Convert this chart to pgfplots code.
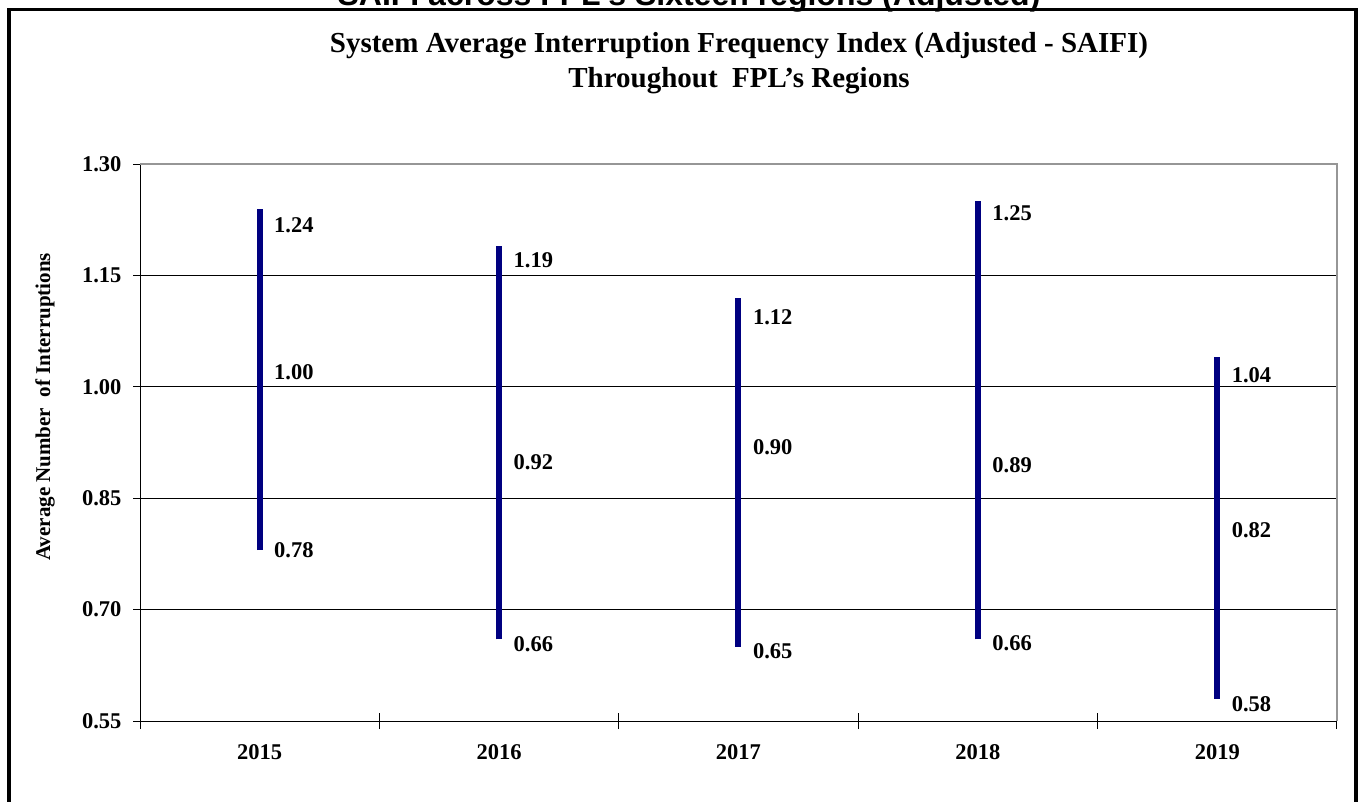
\documentclass[border=0pt]{standalone}
\usepackage{fontspec}
\setmainfont{Liberation Serif}
\newfontfamily\arialbold{Liberation Sans}[BoldFont={* Bold}]
\usepackage{pgfplots}
\pgfplotsset{compat=1.18}
\definecolor{navyline}{RGB}{0,0,128}
\definecolor{frameGray}{RGB}{150,150,150}

\pgfplotstableread{
x y
1 0.78
1 1.24
1 nan
2 0.66
2 1.19
2 nan
3 0.65
3 1.12
3 nan
4 0.66
4 1.25
4 nan
5 0.58
5 1.04
}\rangedata

% value, and height at which its label sits
\pgfplotstableread{
x val ly
1 1.24 1.218
1 1.00 1.020
1 0.78 0.780
2 1.19 1.171
2 0.92 0.899
2 0.66 0.654
3 1.12 1.094
3 0.90 0.919
3 0.65 0.644
4 1.25 1.234
4 0.89 0.895
4 0.66 0.655
5 1.04 1.015
5 0.82 0.807
5 0.58 0.573
}\labeldata

\begin{document}
\begin{tikzpicture}
\useasboundingbox (0,0) rectangle (1359pt,801pt);
\fill[white] (0,0) rectangle (1359pt,801pt);
% cut-off heading above the frame
\node[anchor=base, inner sep=0pt, font=\arialbold\bfseries\fontsize{32}{38}\selectfont]
  at (689pt,795pt) {SAIFI across FPL's Sixteen regions (Adjusted)};
\draw[line width=3.5pt] (9pt,-10pt) -- (9pt,791.5pt) -- (1356pt,791.5pt) -- (1356pt,-10pt);
\node[align=center, font=\bfseries\fontsize{29}{35}\selectfont] at (739pt,738pt)
  {System Average Interruption Frequency Index (Adjusted - SAIFI)\\Throughout\ \ FPL's Regions};

\begin{axis}[
  at={(140pt,80pt)}, anchor=south west,
  width=1197pt, height=557pt, scale only axis,
  clip=false,
  xmin=0.5, xmax=5.5, ymin=0.55, ymax=1.30,
  axis x line*=bottom, axis y line*=left,
  axis line style={black, line width=1pt, -},
  xtick={1,2,3,4,5},
  xticklabels={2015,2016,2017,2018,2019},
  minor xtick={0.5,1.5,2.5,3.5,4.5,5.5},
  major x tick style={draw=none},
  minor tick length=16pt,
  xtick align=center,
  ytick={0.55,0.70,0.85,1.00,1.15,1.30},
  ytick align=outside,
  major tick length=7pt,
  tick style={black, line width=1pt},
  ymajorgrids,
  grid style={black, line width=0.9pt},
  /pgf/number format/assume math mode=true,
  ticklabel style={font=\bfseries\fontsize{22.5}{26}\selectfont},
  xticklabel style={yshift=-16pt},
  yticklabel style={xshift=-8pt, /pgf/number format/.cd, fixed, fixed zerofill, precision=2},
  ylabel={Average Number\ \ of Interruptions},
  ylabel style={at={(rel axis cs:-0.0794,0.564)}, anchor=center,
    font=\bfseries\fontsize{21}{25}\selectfont},
]
\addplot[navyline, line width=6pt, unbounded coords=jump, mark=none]
  table[x=x, y=y] {\rangedata};
\addplot[draw=none, mark=none, point meta=explicit,
  nodes near coords={\pgfmathprintnumber[fixed, fixed zerofill, precision=2, assume math mode=true]{\pgfplotspointmeta}},
  every node near coord/.append style={anchor=west, xshift=11pt, black,
    font=\bfseries\fontsize{22.5}{26}\selectfont}]
  table[x=x, y=ly, meta=val] {\labeldata};
\draw[frameGray, line width=1.5pt] (rel axis cs:0,1) -- (rel axis cs:1,1) -- (rel axis cs:1,0);
\end{axis}
\end{tikzpicture}
\end{document}
